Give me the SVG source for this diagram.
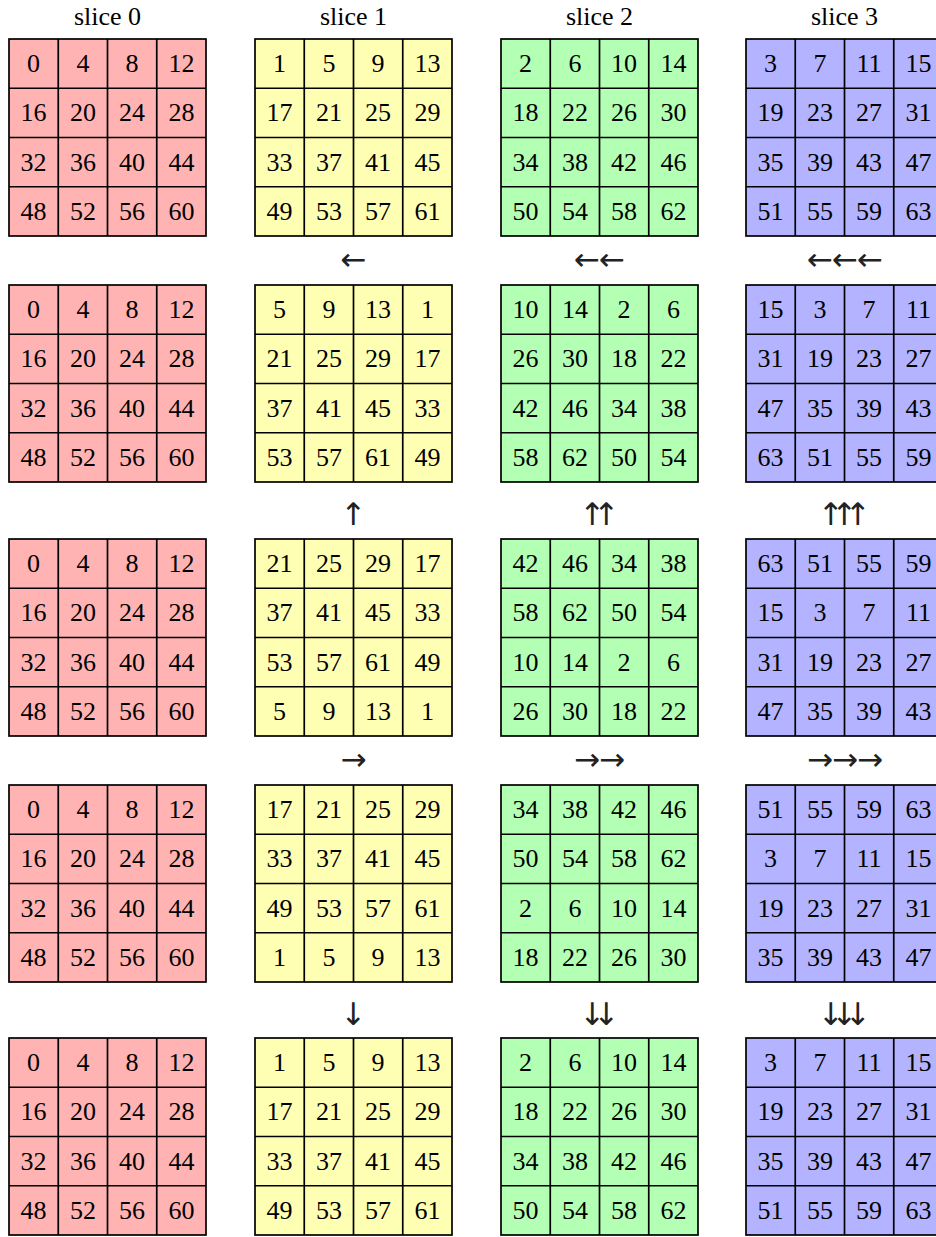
<svg xmlns="http://www.w3.org/2000/svg" width="936" height="1237" viewBox="0 0 936 1237">
<style>
.s0{fill:#FFB3B3}.s1{fill:#FFFFB3}.s2{fill:#B3FFB3}.s3{fill:#B3B3FF}
text{font-family:"Liberation Serif",serif;font-size:26px;text-anchor:middle;fill:#000}
.arr{font-family:"DejaVu Sans",sans-serif;font-size:31px;fill:#222}
</style>
<defs>
<g id="grid"><rect x="0" y="0" width="197" height="197" stroke="#000" stroke-width="1.7"/><path d="M49.25 0V197M98.5 0V197M147.75 0V197M0 49.25H197M0 98.5H197M0 147.75H197" fill="none" stroke="#000" stroke-width="1.7"/></g>
</defs>
<rect width="936" height="1237" fill="#fff"/>
<g id="titles">
<text x="107.5" y="25">slice 0</text>
<text x="353.5" y="25">slice 1</text>
<text x="599.5" y="25">slice 2</text>
<text x="844.5" y="25">slice 3</text>
</g>

<!-- Row 0 -->
<g id="r0s0" class="s0" transform="translate(9,39)"><use href="#grid"/>
<g transform="translate(0,33)"><text x="24.6">0</text><text x="73.9">4</text><text x="123.1">8</text><text x="172.4">12</text></g>
<g transform="translate(0,82.3)"><text x="24.6">16</text><text x="73.9">20</text><text x="123.1">24</text><text x="172.4">28</text></g>
<g transform="translate(0,131.5)"><text x="24.6">32</text><text x="73.9">36</text><text x="123.1">40</text><text x="172.4">44</text></g>
<g transform="translate(0,180.8)"><text x="24.6">48</text><text x="73.9">52</text><text x="123.1">56</text><text x="172.4">60</text></g>
</g>
<g id="r0s1" class="s1" transform="translate(255,39)"><use href="#grid"/>
<g transform="translate(0,33)"><text x="24.6">1</text><text x="73.9">5</text><text x="123.1">9</text><text x="172.4">13</text></g>
<g transform="translate(0,82.3)"><text x="24.6">17</text><text x="73.9">21</text><text x="123.1">25</text><text x="172.4">29</text></g>
<g transform="translate(0,131.5)"><text x="24.6">33</text><text x="73.9">37</text><text x="123.1">41</text><text x="172.4">45</text></g>
<g transform="translate(0,180.8)"><text x="24.6">49</text><text x="73.9">53</text><text x="123.1">57</text><text x="172.4">61</text></g>
</g>
<g id="r0s2" class="s2" transform="translate(501,39)"><use href="#grid"/>
<g transform="translate(0,33)"><text x="24.6">2</text><text x="73.9">6</text><text x="123.1">10</text><text x="172.4">14</text></g>
<g transform="translate(0,82.3)"><text x="24.6">18</text><text x="73.9">22</text><text x="123.1">26</text><text x="172.4">30</text></g>
<g transform="translate(0,131.5)"><text x="24.6">34</text><text x="73.9">38</text><text x="123.1">42</text><text x="172.4">46</text></g>
<g transform="translate(0,180.8)"><text x="24.6">50</text><text x="73.9">54</text><text x="123.1">58</text><text x="172.4">62</text></g>
</g>
<g id="r0s3" class="s3" transform="translate(746,39)"><use href="#grid"/>
<g transform="translate(0,33)"><text x="24.6">3</text><text x="73.9">7</text><text x="123.1">11</text><text x="172.4">15</text></g>
<g transform="translate(0,82.3)"><text x="24.6">19</text><text x="73.9">23</text><text x="123.1">27</text><text x="172.4">31</text></g>
<g transform="translate(0,131.5)"><text x="24.6">35</text><text x="73.9">39</text><text x="123.1">43</text><text x="172.4">47</text></g>
<g transform="translate(0,180.8)"><text x="24.6">51</text><text x="73.9">55</text><text x="123.1">59</text><text x="172.4">63</text></g>
</g>

<!-- Row 1 -->
<g id="r1s0" class="s0" transform="translate(9,285)"><use href="#grid"/>
<g transform="translate(0,33)"><text x="24.6">0</text><text x="73.9">4</text><text x="123.1">8</text><text x="172.4">12</text></g>
<g transform="translate(0,82.3)"><text x="24.6">16</text><text x="73.9">20</text><text x="123.1">24</text><text x="172.4">28</text></g>
<g transform="translate(0,131.5)"><text x="24.6">32</text><text x="73.9">36</text><text x="123.1">40</text><text x="172.4">44</text></g>
<g transform="translate(0,180.8)"><text x="24.6">48</text><text x="73.9">52</text><text x="123.1">56</text><text x="172.4">60</text></g>
</g>
<g id="r1s1" class="s1" transform="translate(255,285)"><use href="#grid"/>
<g transform="translate(0,33)"><text x="24.6">5</text><text x="73.9">9</text><text x="123.1">13</text><text x="172.4">1</text></g>
<g transform="translate(0,82.3)"><text x="24.6">21</text><text x="73.9">25</text><text x="123.1">29</text><text x="172.4">17</text></g>
<g transform="translate(0,131.5)"><text x="24.6">37</text><text x="73.9">41</text><text x="123.1">45</text><text x="172.4">33</text></g>
<g transform="translate(0,180.8)"><text x="24.6">53</text><text x="73.9">57</text><text x="123.1">61</text><text x="172.4">49</text></g>
</g>
<g id="r1s2" class="s2" transform="translate(501,285)"><use href="#grid"/>
<g transform="translate(0,33)"><text x="24.6">10</text><text x="73.9">14</text><text x="123.1">2</text><text x="172.4">6</text></g>
<g transform="translate(0,82.3)"><text x="24.6">26</text><text x="73.9">30</text><text x="123.1">18</text><text x="172.4">22</text></g>
<g transform="translate(0,131.5)"><text x="24.6">42</text><text x="73.9">46</text><text x="123.1">34</text><text x="172.4">38</text></g>
<g transform="translate(0,180.8)"><text x="24.6">58</text><text x="73.9">62</text><text x="123.1">50</text><text x="172.4">54</text></g>
</g>
<g id="r1s3" class="s3" transform="translate(746,285)"><use href="#grid"/>
<g transform="translate(0,33)"><text x="24.6">15</text><text x="73.9">3</text><text x="123.1">7</text><text x="172.4">11</text></g>
<g transform="translate(0,82.3)"><text x="24.6">31</text><text x="73.9">19</text><text x="123.1">23</text><text x="172.4">27</text></g>
<g transform="translate(0,131.5)"><text x="24.6">47</text><text x="73.9">35</text><text x="123.1">39</text><text x="172.4">43</text></g>
<g transform="translate(0,180.8)"><text x="24.6">63</text><text x="73.9">51</text><text x="123.1">55</text><text x="172.4">59</text></g>
</g>

<!-- Row 2 -->
<g id="r2s0" class="s0" transform="translate(9,539)"><use href="#grid"/>
<g transform="translate(0,33)"><text x="24.6">0</text><text x="73.9">4</text><text x="123.1">8</text><text x="172.4">12</text></g>
<g transform="translate(0,82.3)"><text x="24.6">16</text><text x="73.9">20</text><text x="123.1">24</text><text x="172.4">28</text></g>
<g transform="translate(0,131.5)"><text x="24.6">32</text><text x="73.9">36</text><text x="123.1">40</text><text x="172.4">44</text></g>
<g transform="translate(0,180.8)"><text x="24.6">48</text><text x="73.9">52</text><text x="123.1">56</text><text x="172.4">60</text></g>
</g>
<g id="r2s1" class="s1" transform="translate(255,539)"><use href="#grid"/>
<g transform="translate(0,33)"><text x="24.6">21</text><text x="73.9">25</text><text x="123.1">29</text><text x="172.4">17</text></g>
<g transform="translate(0,82.3)"><text x="24.6">37</text><text x="73.9">41</text><text x="123.1">45</text><text x="172.4">33</text></g>
<g transform="translate(0,131.5)"><text x="24.6">53</text><text x="73.9">57</text><text x="123.1">61</text><text x="172.4">49</text></g>
<g transform="translate(0,180.8)"><text x="24.6">5</text><text x="73.9">9</text><text x="123.1">13</text><text x="172.4">1</text></g>
</g>
<g id="r2s2" class="s2" transform="translate(501,539)"><use href="#grid"/>
<g transform="translate(0,33)"><text x="24.6">42</text><text x="73.9">46</text><text x="123.1">34</text><text x="172.4">38</text></g>
<g transform="translate(0,82.3)"><text x="24.6">58</text><text x="73.9">62</text><text x="123.1">50</text><text x="172.4">54</text></g>
<g transform="translate(0,131.5)"><text x="24.6">10</text><text x="73.9">14</text><text x="123.1">2</text><text x="172.4">6</text></g>
<g transform="translate(0,180.8)"><text x="24.6">26</text><text x="73.9">30</text><text x="123.1">18</text><text x="172.4">22</text></g>
</g>
<g id="r2s3" class="s3" transform="translate(746,539)"><use href="#grid"/>
<g transform="translate(0,33)"><text x="24.6">63</text><text x="73.9">51</text><text x="123.1">55</text><text x="172.4">59</text></g>
<g transform="translate(0,82.3)"><text x="24.6">15</text><text x="73.9">3</text><text x="123.1">7</text><text x="172.4">11</text></g>
<g transform="translate(0,131.5)"><text x="24.6">31</text><text x="73.9">19</text><text x="123.1">23</text><text x="172.4">27</text></g>
<g transform="translate(0,180.8)"><text x="24.6">47</text><text x="73.9">35</text><text x="123.1">39</text><text x="172.4">43</text></g>
</g>

<!-- Row 3 -->
<g id="r3s0" class="s0" transform="translate(9,785)"><use href="#grid"/>
<g transform="translate(0,33)"><text x="24.6">0</text><text x="73.9">4</text><text x="123.1">8</text><text x="172.4">12</text></g>
<g transform="translate(0,82.3)"><text x="24.6">16</text><text x="73.9">20</text><text x="123.1">24</text><text x="172.4">28</text></g>
<g transform="translate(0,131.5)"><text x="24.6">32</text><text x="73.9">36</text><text x="123.1">40</text><text x="172.4">44</text></g>
<g transform="translate(0,180.8)"><text x="24.6">48</text><text x="73.9">52</text><text x="123.1">56</text><text x="172.4">60</text></g>
</g>
<g id="r3s1" class="s1" transform="translate(255,785)"><use href="#grid"/>
<g transform="translate(0,33)"><text x="24.6">17</text><text x="73.9">21</text><text x="123.1">25</text><text x="172.4">29</text></g>
<g transform="translate(0,82.3)"><text x="24.6">33</text><text x="73.9">37</text><text x="123.1">41</text><text x="172.4">45</text></g>
<g transform="translate(0,131.5)"><text x="24.6">49</text><text x="73.9">53</text><text x="123.1">57</text><text x="172.4">61</text></g>
<g transform="translate(0,180.8)"><text x="24.6">1</text><text x="73.9">5</text><text x="123.1">9</text><text x="172.4">13</text></g>
</g>
<g id="r3s2" class="s2" transform="translate(501,785)"><use href="#grid"/>
<g transform="translate(0,33)"><text x="24.6">34</text><text x="73.9">38</text><text x="123.1">42</text><text x="172.4">46</text></g>
<g transform="translate(0,82.3)"><text x="24.6">50</text><text x="73.9">54</text><text x="123.1">58</text><text x="172.4">62</text></g>
<g transform="translate(0,131.5)"><text x="24.6">2</text><text x="73.9">6</text><text x="123.1">10</text><text x="172.4">14</text></g>
<g transform="translate(0,180.8)"><text x="24.6">18</text><text x="73.9">22</text><text x="123.1">26</text><text x="172.4">30</text></g>
</g>
<g id="r3s3" class="s3" transform="translate(746,785)"><use href="#grid"/>
<g transform="translate(0,33)"><text x="24.6">51</text><text x="73.9">55</text><text x="123.1">59</text><text x="172.4">63</text></g>
<g transform="translate(0,82.3)"><text x="24.6">3</text><text x="73.9">7</text><text x="123.1">11</text><text x="172.4">15</text></g>
<g transform="translate(0,131.5)"><text x="24.6">19</text><text x="73.9">23</text><text x="123.1">27</text><text x="172.4">31</text></g>
<g transform="translate(0,180.8)"><text x="24.6">35</text><text x="73.9">39</text><text x="123.1">43</text><text x="172.4">47</text></g>
</g>

<!-- Row 4 -->
<g id="r4s0" class="s0" transform="translate(9,1038)"><use href="#grid"/>
<g transform="translate(0,33)"><text x="24.6">0</text><text x="73.9">4</text><text x="123.1">8</text><text x="172.4">12</text></g>
<g transform="translate(0,82.3)"><text x="24.6">16</text><text x="73.9">20</text><text x="123.1">24</text><text x="172.4">28</text></g>
<g transform="translate(0,131.5)"><text x="24.6">32</text><text x="73.9">36</text><text x="123.1">40</text><text x="172.4">44</text></g>
<g transform="translate(0,180.8)"><text x="24.6">48</text><text x="73.9">52</text><text x="123.1">56</text><text x="172.4">60</text></g>
</g>
<g id="r4s1" class="s1" transform="translate(255,1038)"><use href="#grid"/>
<g transform="translate(0,33)"><text x="24.6">1</text><text x="73.9">5</text><text x="123.1">9</text><text x="172.4">13</text></g>
<g transform="translate(0,82.3)"><text x="24.6">17</text><text x="73.9">21</text><text x="123.1">25</text><text x="172.4">29</text></g>
<g transform="translate(0,131.5)"><text x="24.6">33</text><text x="73.9">37</text><text x="123.1">41</text><text x="172.4">45</text></g>
<g transform="translate(0,180.8)"><text x="24.6">49</text><text x="73.9">53</text><text x="123.1">57</text><text x="172.4">61</text></g>
</g>
<g id="r4s2" class="s2" transform="translate(501,1038)"><use href="#grid"/>
<g transform="translate(0,33)"><text x="24.6">2</text><text x="73.9">6</text><text x="123.1">10</text><text x="172.4">14</text></g>
<g transform="translate(0,82.3)"><text x="24.6">18</text><text x="73.9">22</text><text x="123.1">26</text><text x="172.4">30</text></g>
<g transform="translate(0,131.5)"><text x="24.6">34</text><text x="73.9">38</text><text x="123.1">42</text><text x="172.4">46</text></g>
<g transform="translate(0,180.8)"><text x="24.6">50</text><text x="73.9">54</text><text x="123.1">58</text><text x="172.4">62</text></g>
</g>
<g id="r4s3" class="s3" transform="translate(746,1038)"><use href="#grid"/>
<g transform="translate(0,33)"><text x="24.6">3</text><text x="73.9">7</text><text x="123.1">11</text><text x="172.4">15</text></g>
<g transform="translate(0,82.3)"><text x="24.6">19</text><text x="73.9">23</text><text x="123.1">27</text><text x="172.4">31</text></g>
<g transform="translate(0,131.5)"><text x="24.6">35</text><text x="73.9">39</text><text x="123.1">43</text><text x="172.4">47</text></g>
<g transform="translate(0,180.8)"><text x="24.6">51</text><text x="73.9">55</text><text x="123.1">59</text><text x="172.4">63</text></g>
</g>

<g id="connectors">
<text class="arr" x="353.5" y="270">←</text>
<text class="arr" x="587 612" y="270">←←</text>
<text class="arr" x="820 845 870" y="270">←←←</text>
<text class="arr" x="353.5" y="524.5">↑</text>
<text class="arr" x="592.5 606.5" y="524.5">↑↑</text>
<text class="arr" x="831 844.5 858" y="524.5">↑↑↑</text>
<text class="arr" x="353.5" y="770">→</text>
<text class="arr" x="587 612" y="770">→→</text>
<text class="arr" x="820 845 870" y="770">→→→</text>
<text class="arr" x="353.5" y="1024.5">↓</text>
<text class="arr" x="592.5 606.5" y="1024.5">↓↓</text>
<text class="arr" x="831 844.5 858" y="1024.5">↓↓↓</text>
</g>
</svg>
